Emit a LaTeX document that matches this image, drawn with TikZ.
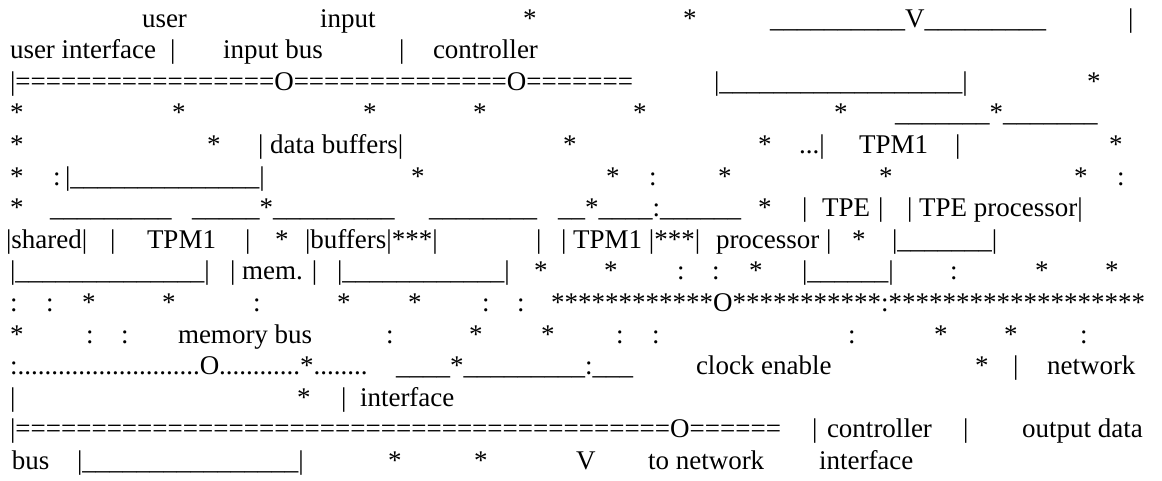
\documentclass[tikz,border=0pt]{standalone}
\usepackage{fontspec}
\setmainfont{Liberation Serif}
\ExplSyntaxOn
\NewDocumentCommand\Rep{mm}{\prg_replicate:nn{#1}{#2}}
\ExplSyntaxOff
\newcommand\tk[4]{\node[tok] (#1) at (#2,{27+31.6*(#3-1)}) {#4};}
\begin{document}
\begin{tikzpicture}[x=1pt,y=-1pt,tok/.style={anchor=base west,inner sep=0pt,outer sep=0pt,font=\fontsize{27}{31.6}\selectfont}]
\useasboundingbox (0,0) rectangle (1162,480);
% line 1
\tk{a1}{142}{1}{user}
\tk{a2}{320}{1}{input}
\tk{a3}{523}{1}{*}
\tk{a4}{683}{1}{*}
\tk{a5}{770}{1}{\Rep{10}{\_}V\Rep{9}{\_}}
\tk{a6}{1128}{1}{|}
% line 2
\tk{b1}{10}{2}{user interface}
\tk{b2}{170}{2}{|}
\tk{b3}{223}{2}{input bus}
\tk{b4}{399}{2}{|}
\tk{b5}{433}{2}{controller}
% line 3
\tk{c1}{10}{3}{|\Rep{17}{=}O\Rep{14}{=}O\Rep{7}{=}}
\tk{c2}{714}{3}{|\Rep{18}{\_}|}
\tk{c3}{1087}{3}{*}
% line 4
\tk{d1}{10}{4}{*}
\tk{d2}{172}{4}{*}
\tk{d3}{363}{4}{*}
\tk{d4}{473}{4}{*}
\tk{d5}{633}{4}{*}
\tk{d6}{834}{4}{*}
\tk{d7}{895}{4}{\Rep{7}{\_}*\Rep{7}{\_}}
% line 5
\tk{e1}{10}{5}{*}
\tk{e2}{207}{5}{*}
\tk{e3}{258}{5}{| data buffers|}
\tk{e4}{563}{5}{*}
\tk{e5}{758}{5}{*}
\tk{e6}{799}{5}{...|}
\tk{e7}{859}{5}{TPM1}
\tk{e8}{955}{5}{|}
\tk{e9}{1109}{5}{*}
% line 6
\tk{f1}{10}{6}{*}
\tk{f2}{53}{6}{:}
\tk{f3}{65}{6}{|\Rep{14}{\_}|}
\tk{f4}{411}{6}{*}
\tk{f5}{606}{6}{*}
\tk{f6}{649}{6}{:}
\tk{f7}{718}{6}{*}
\tk{f8}{879}{6}{*}
\tk{f9}{1074}{6}{*}
\tk{f10}{1117}{6}{:}
% line 7
\tk{g1}{10}{7}{*}
\tk{g2}{50}{7}{\Rep{9}{\_}}
\tk{g3}{192}{7}{\Rep{5}{\_}*\Rep{9}{\_}}
\tk{g4}{429}{7}{\Rep{8}{\_}}
\tk{g5}{558}{7}{\Rep{2}{\_}*\Rep{4}{\_}:\Rep{6}{\_}}
\tk{g6}{758}{7}{*}
\tk{g7}{802}{7}{|}
\tk{g8}{822}{7}{TPE}
\tk{g9}{878}{7}{|}
\tk{g10}{907}{7}{| TPE processor|}
% line 8
\tk{h1}{6}{8}{|shared|}
\tk{h2}{110}{8}{|}
\tk{h3}{147}{8}{TPM1}
\tk{h4}{245}{8}{|}
\tk{h5}{275}{8}{*}
\tk{h6}{305}{8}{|buffers|***|}
\tk{h7}{536}{8}{|}
\tk{h8}{561}{8}{| TPM1 |***|}
\tk{h9}{716}{8}{processor |}
\tk{h10}{852}{8}{*}
\tk{h11}{892}{8}{|\Rep{7}{\_}|}
% line 9
\tk{i1}{10}{9}{|\Rep{14}{\_}|}
\tk{i2}{230}{9}{| mem. |}
\tk{i3}{337}{9}{|\Rep{12}{\_}|}
\tk{i4}{534}{9}{*}
\tk{i5}{604}{9}{*}
\tk{i6}{677}{9}{:}
\tk{i7}{712}{9}{:}
\tk{i8}{749}{9}{*}
\tk{i9}{802}{9}{|\Rep{6}{\_}|}
\tk{i10}{950}{9}{:}
\tk{i11}{1035}{9}{*}
\tk{i12}{1105}{9}{*}
% line 10
\tk{j1}{10}{10}{:}
\tk{j2}{46}{10}{:}
\tk{j3}{82}{10}{*}
\tk{j4}{162}{10}{*}
\tk{j5}{253}{10}{:}
\tk{j6}{337}{10}{*}
\tk{j7}{408}{10}{*}
\tk{j8}{482}{10}{:}
\tk{j9}{517}{10}{:}
\tk{j10}{551}{10}{\Rep{12}{*}O\Rep{11}{*}:\Rep{19}{*}}
% line 11
\tk{k1}{10}{11}{*}
\tk{k2}{86}{11}{:}
\tk{k3}{121}{11}{:}
\tk{k4}{178}{11}{memory bus}
\tk{k5}{386}{11}{:}
\tk{k6}{469}{11}{*}
\tk{k7}{541}{11}{*}
\tk{k8}{616}{11}{:}
\tk{k9}{652}{11}{:}
\tk{k10}{848}{11}{:}
\tk{k11}{934}{11}{*}
\tk{k12}{1004}{11}{*}
\tk{k13}{1080}{11}{:}
% line 12
\tk{l1}{10}{12}{:\Rep{27}{.}O\Rep{12}{.}*\Rep{8}{.}}
\tk{l2}{396}{12}{\Rep{4}{\_}*\Rep{9}{\_}:\Rep{3}{\_}}
\tk{l3}{696}{12}{clock enable}
\tk{l4}{975}{12}{*}
\tk{l5}{1013}{12}{|}
\tk{l6}{1047}{12}{network}
% line 13
\tk{m1}{10}{13}{|}
\tk{m2}{297}{13}{*}
\tk{m3}{341}{13}{|}
\tk{m4}{360}{13}{interface}
% line 14
\tk{n1}{10}{14}{|\Rep{43}{=}O\Rep{6}{=}}
\tk{n2}{812}{14}{|}
\tk{n3}{827}{14}{controller}
\tk{n4}{963}{14}{|}
\tk{n5}{1022}{14}{output data}
% line 15
\tk{o1}{12}{15}{bus}
\tk{o2}{77}{15}{|\Rep{16}{\_}|}
\tk{o3}{388}{15}{*}
\tk{o4}{474}{15}{*}
\tk{o5}{576}{15}{V}
\tk{o6}{648}{15}{to network}
\tk{o7}{819}{15}{interface}
\end{tikzpicture}
\end{document}
